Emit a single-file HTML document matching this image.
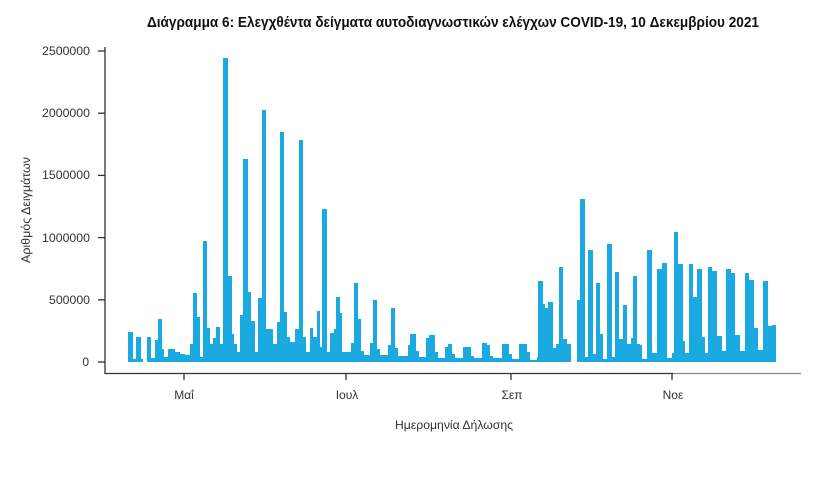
<!DOCTYPE html>
<html>
<head>
<meta charset="utf-8">
<style>
html,body{margin:0;padding:0;background:#fff;}
svg{display:block;}
text{font-family:"Liberation Sans",sans-serif;}
</style>
</head>
<body>
<svg width="840" height="479" viewBox="0 0 840 479" xmlns="http://www.w3.org/2000/svg">
<rect x="0" y="0" width="840" height="479" fill="#fff"/>
<text x="453" y="27" text-anchor="middle" font-size="15" font-weight="bold" fill="#111" textLength="612" lengthAdjust="spacingAndGlyphs">Διάγραμμα 6: Ελεγχθέντα δείγματα αυτοδιαγνωστικών ελέγχων COVID-19, 10 Δεκεμβρίου 2021</text>
<g font-size="12" fill="#333" text-anchor="end">
<text x="90" y="55" textLength="48" lengthAdjust="spacingAndGlyphs">2500000</text>
<text x="90" y="117" textLength="48" lengthAdjust="spacingAndGlyphs">2000000</text>
<text x="90" y="179" textLength="48" lengthAdjust="spacingAndGlyphs">1500000</text>
<text x="90" y="242" textLength="48" lengthAdjust="spacingAndGlyphs">1000000</text>
<text x="90" y="304" textLength="41" lengthAdjust="spacingAndGlyphs">500000</text>
<text x="89" y="366">0</text>
</g>
<g stroke="#333" stroke-width="1.3">
<line x1="98" y1="51" x2="105" y2="51"/>
<line x1="98" y1="113.2" x2="105" y2="113.2"/>
<line x1="98" y1="175.4" x2="105" y2="175.4"/>
<line x1="98" y1="237.6" x2="105" y2="237.6"/>
<line x1="98" y1="299.8" x2="105" y2="299.8"/>
<line x1="98" y1="362" x2="105" y2="362"/>
<line x1="105" y1="47" x2="105" y2="374"/>
<line x1="104.5" y1="373.5" x2="673" y2="373.5"/>
<line x1="184" y1="373.5" x2="184" y2="380"/>
<line x1="346" y1="373.5" x2="346" y2="380"/>
<line x1="511" y1="373.5" x2="511" y2="380"/>
<line x1="672" y1="373.5" x2="672" y2="380"/>
</g>
<line x1="673" y1="373.5" x2="801" y2="373.5" stroke="#888" stroke-width="1.2"/>
<text transform="translate(30,210) rotate(-90)" text-anchor="middle" font-size="12" fill="#333" textLength="106" lengthAdjust="spacingAndGlyphs">Αριθμός Δειγμάτων</text>
<g font-size="12" fill="#333" text-anchor="middle">
<text x="184" y="399">Μαΐ</text>
<text x="347" y="399">Ιουλ</text>
<text x="512" y="399">Σεπ</text>
<text x="673" y="399">Νοε</text>
<text x="454" y="429" textLength="118" lengthAdjust="spacingAndGlyphs">Ημερομηνία Δήλωσης</text>
</g>
<path fill="#1ba9e1" d="M128 362V332H133V359H136V337H141V359H143V362Z
M147 362V337H151V358H155V340H158V319H162V349H164V357H168V349H175V352H180V354H185V355H190V344H193V293H197V317H200V357H203V241H207V328H210V344H213V338H216V327H220V344H223V58H228V276H232V334H234V344H237V352H240V315H243V159H248V292H251V321H255V352H258V298H262V110H266V329H273V344H277V322H280V132H284V312H287V337H290V342H295V329H299V140H303V337H306V352H310V328H313V337H317V311H320V347H322V209H327V352H330V333H334V329H336V297H340V313H342V352H351V343H354V283H358V319H361V351H364V355H370V343H373V300H377V349H380V355H388V345H391V308H395V348H398V356H408V345H410V334H416V351H419V357H426V338H429V335H435V352H438V358H445V347H448V344H452V354H455V358H463V347H471V356H474V358H482V343H487V345H490V356H493V358H502V344H509V354H512V359H519V344H527V352H530V360H537V357H538V281H543V304H545V308H548V302H553V348H556V344H559V267H563V339H567V344H571V362Z
M577 362V300H580V199H585V357H588V250H593V354H596V283H600V334H603V359H607V244H612V357H615V272H619V339H623V305H627V344H631V338H633V276H637V344H640V345H642V359H647V250H652V353H657V269H662V263H667V358H672V353H674V232H678V264H683V341H685V353H689V264H693V297H697V269H702V337H705V353H708V267H712V271H717V336H722V351H726V269H731V273H735V335H740V351H745V273H749V280H754V328H758V350H763V281H768V326H772V325H776V362Z"/>
</svg>
</body>
</html>
